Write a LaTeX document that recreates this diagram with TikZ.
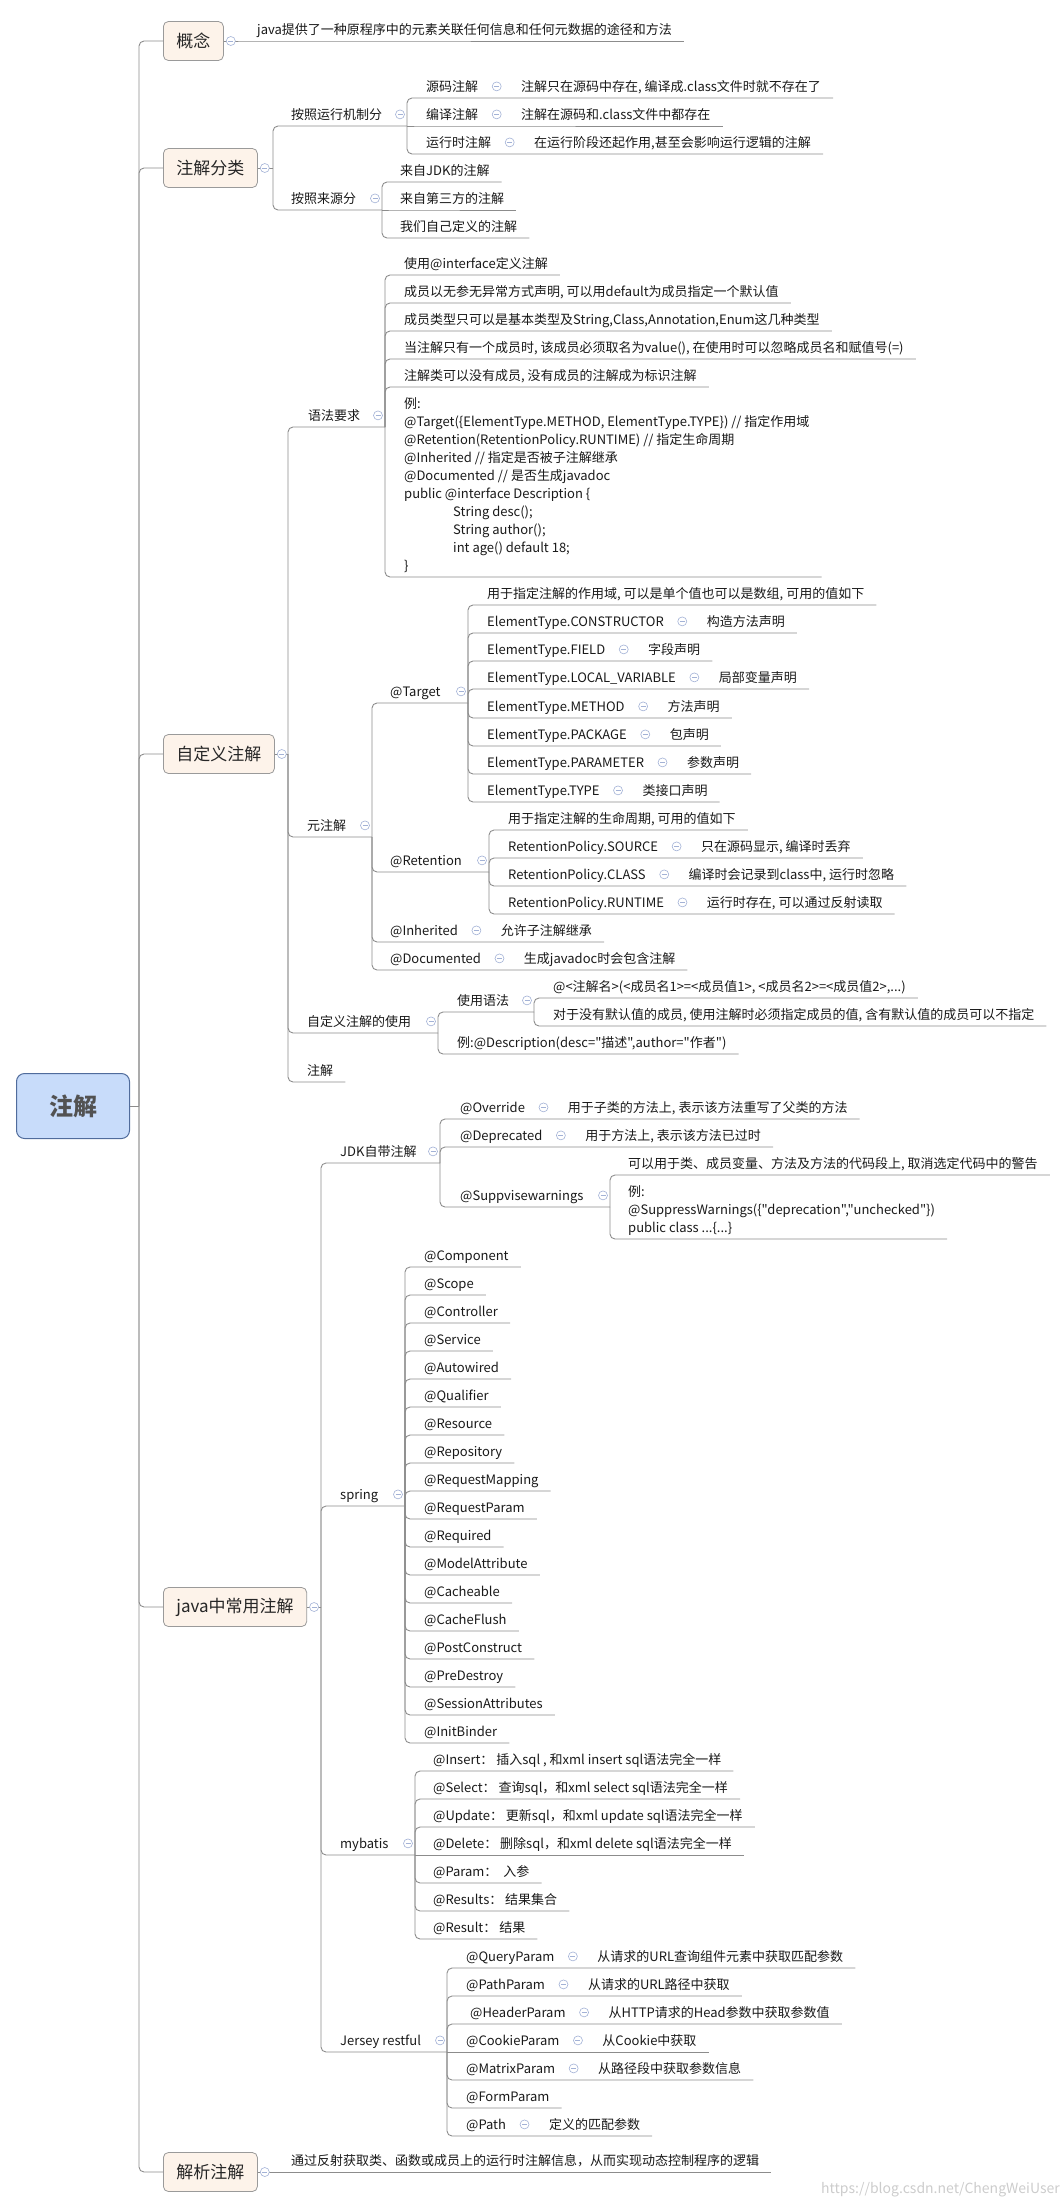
\documentclass[tikz,border=0pt]{standalone}
\usepackage{fontspec}
\setmainfont{Noto Sans CJK SC}[Ligatures=TeXOff]
\usetikzlibrary{positioning}
\definecolor{LNC}{HTML}{8C8C8C}
\definecolor{CCC}{HTML}{A3B2D6}
\definecolor{BXF}{HTML}{FDF3EA}
\definecolor{BXD}{HTML}{9A9A9A}
\definecolor{RTF}{HTML}{C8DCFA}
\definecolor{RTD}{HTML}{506C9C}
\newcommand{\leaffont}{\fontsize{13}{18}\selectfont}
\newcommand{\topfont}{\fontsize{17}{20}\selectfont}
\newcommand{\rootfont}{\fontsize{24}{28}\selectfont\bfseries}
\tikzset{
    RT/.style ={rectangle,rounded corners=8pt,draw=RTD,fill=RTF,line width=1pt,minimum width=113pt,minimum height=65pt,font=\rootfont,text=black!68},
    BX/.style ={rectangle,rounded corners=5pt,draw=BXD,fill=BXF,line width=0.8pt,anchor=west,inner xsep=13pt,minimum height=39pt,font=\topfont,text=black!85},
    LF/.style ={anchor=south west,inner xsep=0pt,inner ysep=4.9pt,text height=11.4pt,text depth=1.6pt,font=\leaffont,text=black!90},
    LB/.style ={anchor=south west,inner sep=0pt,text depth=6.5pt,font=\leaffont,text=black!90},
    CC/.style ={circle,draw=CCC,fill=white,line width=0.6pt,minimum size=9pt,inner sep=0pt,
        path picture={\draw[CCC,line width=0.6pt] ([xshift=-2.5pt]path picture bounding box.center) -- ([xshift=2.5pt]path picture bounding box.center);}},
    LN/.style ={draw=LNC,line width=0.9pt,rounded corners=5pt}}

\begin{document}
\begin{tikzpicture}[x=1pt,y=-1pt]
        \useasboundingbox (0,0) rectangle (1062,2208);
        % root and main branches
        \node[RT] (zj) at (73,1106){注解};
        \coordinate (J0) at (139,1106);
        \node[BX] (c1) at (163,41){概念};
        \node[BX] (c2) at (163,168){注解分类};
        \node[BX] (c3) at (163,754){自定义注解};
        \node[BX] (c4) at (163,1607){java中常用注解};
        \node[BX] (c5) at (163,2172){解析注解};
        % 概念
        \node[LF] (c1a) at (257,41){java提供了一种原程序中的元素关联任何信息和任何元数据的途径和方法};
        % 注解分类
        \coordinate (J1) at (273,168);
        \node[LF] (c2a) at (291,126){按照运行机制分};
        \coordinate (T2a) at (407,126);
        \node[LF] (c2a1) at (426,98){源码注解};
        \node[CC,right=13.5pt of c2a1] (k2a1){};
        \node[LF,right=19.5pt of k2a1] (c2a1x){注解只在源码中存在, 编译成.class文件时就不存在了};
        \node[LF] (c2a2) at (426,126){编译注解};
        \node[CC,right=13.5pt of c2a2] (k2a2){};
        \node[LF,right=19.5pt of k2a2] (c2a2x){注解在源码和.class文件中都存在};
        \node[LF] (c2a3) at (426,154){运行时注解};
        \node[CC,right=13.5pt of c2a3] (k2a3){};
        \node[LF,right=19.5pt of k2a3] (c2a3x){在运行阶段还起作用,甚至会影响运行逻辑的注解};
        \node[LF] (c2b) at (291,210){按照来源分};
        \coordinate (T2b) at (382,210);
        \node[LF] (c2b1) at (400,182){来自JDK的注解};
        \node[LF] (c2b2) at (400,210){来自第三方的注解};
        \node[LF] (c2b3) at (400,238){我们自己定义的注解};
        % 自定义注解
        \coordinate (J2) at (288,754);
        \node[LF] (c3a) at (308,427){语法要求};
        \coordinate (T3a) at (385,427);
        \node[LF] (c3a1) at (404,275){使用@interface定义注解};
        \node[LF] (c3a2) at (404,303){成员以无参无异常方式声明, 可以用default为成员指定一个默认值};
        \node[LF] (c3a3) at (404,331){成员类型只可以是基本类型及String,Class,Annotation,Enum这几种类型};
        \node[LF] (c3a4) at (404,359){当注解只有一个成员时, 该成员必须取名为value(), 在使用时可以忽略成员名和赋值号(=)};
        \node[LF] (c3a5) at (404,387){注解类可以没有成员, 没有成员的注解成为标识注解};
        \node[LB] (c3a6) at (404,577){\begin{tabular}[b]{@{}l@{}}
            例:\\
            @Target(\{ElementType.METHOD, ElementType.TYPE\}) // 指定作用域\\
            @Retention(RetentionPolicy.RUNTIME) // 指定生命周期\\
            @Inherited // 指定是否被子注解继承\\
            @Documented // 是否生成javadoc\\
            public @interface Description \{\\
            \hspace*{49pt}String desc();\\
            \hspace*{49pt}String author();\\
            \hspace*{49pt}int age() default 18;\\
            \}
            \end{tabular}};
        \node[LF] (c3b) at (307,837){元注解};
        \coordinate (T3b) at (372,837);
        \node[LF] (c3b1) at (390,703){@Target};
        \coordinate (T3b1) at (468,703);
        \node[LF] (t0) at (487,605){用于指定注解的作用域, 可以是单个值也可以是数组, 可用的值如下};
        \node[LF] (t1) at (487,633){ElementType.CONSTRUCTOR};
        \node[CC,right=13.5pt of t1] (kt1){};
        \node[LF,right=19.5pt of kt1] (t1x){构造方法声明};
        \node[LF] (t2) at (487,661){ElementType.FIELD};
        \node[CC,right=13.5pt of t2] (kt2){};
        \node[LF,right=19.5pt of kt2] (t2x){字段声明};
        \node[LF] (t3) at (487,689){ElementType.LOCAL\_VARIABLE};
        \node[CC,right=13.5pt of t3] (kt3){};
        \node[LF,right=19.5pt of kt3] (t3x){局部变量声明};
        \node[LF] (t4) at (487,718){ElementType.METHOD};
        \node[CC,right=13.5pt of t4] (kt4){};
        \node[LF,right=19.5pt of kt4] (t4x){方法声明};
        \node[LF] (t5) at (487,746){ElementType.PACKAGE};
        \node[CC,right=13.5pt of t5] (kt5){};
        \node[LF,right=19.5pt of kt5] (t5x){包声明};
        \node[LF] (t6) at (487,774){ElementType.PARAMETER};
        \node[CC,right=13.5pt of t6] (kt6){};
        \node[LF,right=19.5pt of kt6] (t6x){参数声明};
        \node[LF] (t7) at (487,802){ElementType.TYPE};
        \node[CC,right=13.5pt of t7] (kt7){};
        \node[LF,right=19.5pt of kt7] (t7x){类接口声明};
        \node[LF] (c3b2) at (390,872){@Retention};
        \coordinate (T3b2) at (489,872);
        \node[LF] (r0) at (508,830){用于指定注解的生命周期, 可用的值如下};
        \node[LF] (r1) at (508,858){RetentionPolicy.SOURCE};
        \node[CC,right=13.5pt of r1] (kr1){};
        \node[LF,right=19.5pt of kr1] (r1x){只在源码显示, 编译时丢弃};
        \node[LF] (r2) at (508,886){RetentionPolicy.CLASS};
        \node[CC,right=13.5pt of r2] (kr2){};
        \node[LF,right=19.5pt of kr2] (r2x){编译时会记录到class中, 运行时忽略};
        \node[LF] (r3) at (508,914){RetentionPolicy.RUNTIME};
        \node[CC,right=13.5pt of r3] (kr3){};
        \node[LF,right=19.5pt of kr3] (r3x){运行时存在, 可以通过反射读取};
        \node[LF] (c3b3) at (390,942){@Inherited};
        \node[CC,right=13.5pt of c3b3] (k3b3){};
        \node[LF,right=19.5pt of k3b3] (c3b3x){允许子注解继承};
        \node[LF] (c3b4) at (390,970){@Documented};
        \node[CC,right=13.5pt of c3b4] (k3b4){};
        \node[LF,right=19.5pt of k3b4] (c3b4x){生成javadoc时会包含注解};
        \node[LF] (c3c) at (307,1033){自定义注解的使用};
        \coordinate (T3c) at (438,1033);
        \node[LF] (c3c1) at (457,1012){使用语法};
        \coordinate (T3c1) at (534,1012);
        \node[LF] (u1) at (553,998){@<注解名>(<成员名1>=<成员值1>, <成员名2>=<成员值2>,...)};
        \node[LF] (u2) at (553,1026){对于没有默认值的成员, 使用注解时必须指定成员的值, 含有默认值的成员可以不指定};
        \node[LF] (c3c2) at (457,1054){例:@Description(desc="描述",author="作者")};
        \node[LF] (c3d) at (307,1082){注解};
        % java中常用注解
        \coordinate (J3) at (321,1607);
        \node[LF] (c4a) at (340,1163){JDK自带注解};
        \coordinate (T4a) at (440,1163);
        \node[LF] (c4a1) at (460,1119){@Override};
        \node[CC,right=13.5pt of c4a1] (k4a1){};
        \node[LF,right=19.5pt of k4a1] (c4a1x){用于子类的方法上, 表示该方法重写了父类的方法};
        \node[LF] (c4a2) at (460,1147){@Deprecated};
        \node[CC,right=13.5pt of c4a2] (k4a2){};
        \node[LF,right=19.5pt of k4a2] (c4a2x){用于方法上, 表示该方法已过时};
        \node[LF] (c4a3) at (460,1207){@Suppvisewarnings};
        \coordinate (T4a3) at (610,1207);
        \node[LF] (w1) at (628,1175){可以用于类、成员变量、方法及方法的代码段上, 取消选定代码中的警告};
        \node[LB] (w2) at (628,1239){\begin{tabular}[b]{@{}l@{}}
            例:\\
            @SuppressWarnings(\{"deprecation","unchecked"\})\\
            public class ...\{...\}
            \end{tabular}};
        \node[LF] (c4b) at (340,1506){spring};
        \coordinate (T4b) at (405,1506);
        \node[LF] (s1) at (424,1267){@Component};
        \node[LF] (s2) at (424,1295){@Scope};
        \node[LF] (s3) at (424,1323){@Controller};
        \node[LF] (s4) at (424,1351){@Service};
        \node[LF] (s5) at (424,1379){@Autowired};
        \node[LF] (s6) at (424,1407){@Qualifier};
        \node[LF] (s7) at (424,1435){@Resource};
        \node[LF] (s8) at (424,1463){@Repository};
        \node[LF] (s9) at (424,1491){@RequestMapping};
        \node[LF] (s10) at (424,1519){@RequestParam};
        \node[LF] (s11) at (424,1547){@Required};
        \node[LF] (s12) at (424,1575){@ModelAttribute};
        \node[LF] (s13) at (424,1603){@Cacheable};
        \node[LF] (s14) at (424,1631){@CacheFlush};
        \node[LF] (s15) at (424,1659){@PostConstruct};
        \node[LF] (s16) at (424,1687){@PreDestroy};
        \node[LF] (s17) at (424,1715){@SessionAttributes};
        \node[LF] (s18) at (424,1743){@InitBinder};
        \node[LF] (c4c) at (340,1855){mybatis};
        \coordinate (T4c) at (415,1855);
        \node[LF] (m1) at (433,1771){@Insert： 插入sql , 和xml insert sql语法完全一样};
        \node[LF] (m2) at (433,1799){@Select： 查询sql，和xml select sql语法完全一样};
        \node[LF] (m3) at (433,1827){@Update： 更新sql，和xml update sql语法完全一样};
        \node[LF] (m4) at (433,1855){@Delete： 删除sql，和xml delete sql语法完全一样};
        \node[LF] (m5) at (433,1883){@Param：\ \ 入参};
        \node[LF] (m6) at (433,1911){@Results： 结果集合};
        \node[LF] (m7) at (433,1939){@Result： 结果};
        \node[LF] (c4d) at (340,2052){Jersey restful};
        \coordinate (T4d) at (447,2052);
        \node[LF] (j1) at (466,1968){@QueryParam};
        \node[CC,right=13.5pt of j1] (kj1){};
        \node[LF,right=19.5pt of kj1] (j1x){从请求的URL查询组件元素中获取匹配参数};
        \node[LF] (j2) at (466,1996){@PathParam};
        \node[CC,right=13.5pt of j2] (kj2){};
        \node[LF,right=19.5pt of kj2] (j2x){从请求的URL路径中获取};
        \node[LF] (j3) at (470,2024){@HeaderParam};
        \node[CC,right=13.5pt of j3] (kj3){};
        \node[LF,right=19.5pt of kj3] (j3x){从HTTP请求的Head参数中获取参数值};
        \node[LF] (j4) at (466,2052){@CookieParam};
        \node[CC,right=13.5pt of j4] (kj4){};
        \node[LF,right=19.5pt of kj4] (j4x){从Cookie中获取};
        \node[LF] (j5) at (466,2080){@MatrixParam};
        \node[CC,right=13.5pt of j5] (kj5){};
        \node[LF,right=19.5pt of kj5] (j5x){从路径段中获取参数信息};
        \node[LF] (j6) at (466,2108){@FormParam};
        \node[LF] (j7) at (466,2136){@Path};
        \node[CC,right=13.5pt of j7] (kj7){};
        \node[LF,right=19.5pt of kj7] (j7x){定义的匹配参数};
        % 解析注解
        \node[LF] (c5a) at (291,2172){通过反射获取类、函数或成员上的运行时注解信息，从而实现动态控制程序的逻辑};
        \node[anchor=east,inner sep=0pt,font=\fontsize{14}{16}\selectfont,text=black!20] (wm) at (1060,2190){https://blog.csdn.net/ChengWeiUser};
        % connectors
        \draw[LN] (zj.east) -- (J0);
        \draw[LN] (J0) |- (c1.west);
        \draw[LN] (J0) |- (c2.west);
        \draw[LN] (J0) |- (c3.west);
        \draw[LN] (J0) |- (c4.west);
        \draw[LN] (J0) |- (c5.west);
        \draw[LN] (c1.east) -- (c1a.south west) -- ([xshift=12pt]c1a.south east);
        \draw[LN] (c2.east) -- (J1);
        \draw[LN] (J1) |- (c2a.south west) -- (T2a);
        \draw[LN] (T2a) |- (c2a1.south west) -- ([xshift=12pt]c2a1x.south east);
        \draw[LN] (T2a) -- (c2a2.south west) -- ([xshift=12pt]c2a2x.south east);
        \draw[LN] (T2a) |- (c2a3.south west) -- ([xshift=12pt]c2a3x.south east);
        \draw[LN] (J1) |- (c2b.south west) -- (T2b);
        \draw[LN] (T2b) |- (c2b1.south west) -- ([xshift=12pt]c2b1.south east);
        \draw[LN] (T2b) -- (c2b2.south west) -- ([xshift=12pt]c2b2.south east);
        \draw[LN] (T2b) |- (c2b3.south west) -- ([xshift=12pt]c2b3.south east);
        \draw[LN] (c3.east) -- (J2);
        \draw[LN] (J2) |- (c3a.south west) -- (T3a);
        \draw[LN] (T3a) |- (c3a1.south west) -- ([xshift=12pt]c3a1.south east);
        \draw[LN] (T3a) |- (c3a2.south west) -- ([xshift=12pt]c3a2.south east);
        \draw[LN] (T3a) |- (c3a3.south west) -- ([xshift=12pt]c3a3.south east);
        \draw[LN] (T3a) |- (c3a4.south west) -- ([xshift=12pt]c3a4.south east);
        \draw[LN] (T3a) |- (c3a5.south west) -- ([xshift=12pt]c3a5.south east);
        \draw[LN] (T3a) |- (c3a6.south west) -- ([xshift=12pt]c3a6.south east);
        \draw[LN] (J2) |- (c3b.south west) -- (T3b);
        \draw[LN] (T3b) |- (c3b1.south west) -- (T3b1);
        \draw[LN] (T3b1) |- (t0.south west) -- ([xshift=12pt]t0.south east);
        \draw[LN] (T3b1) |- (t1.south west) -- ([xshift=12pt]t1x.south east);
        \draw[LN] (T3b1) |- (t2.south west) -- ([xshift=12pt]t2x.south east);
        \draw[LN] (T3b1) |- (t3.south west) -- ([xshift=12pt]t3x.south east);
        \draw[LN] (T3b1) |- (t4.south west) -- ([xshift=12pt]t4x.south east);
        \draw[LN] (T3b1) |- (t5.south west) -- ([xshift=12pt]t5x.south east);
        \draw[LN] (T3b1) |- (t6.south west) -- ([xshift=12pt]t6x.south east);
        \draw[LN] (T3b1) |- (t7.south west) -- ([xshift=12pt]t7x.south east);
        \draw[LN] (T3b) |- (c3b2.south west) -- (T3b2);
        \draw[LN] (T3b2) |- (r0.south west) -- ([xshift=12pt]r0.south east);
        \draw[LN] (T3b2) |- (r1.south west) -- ([xshift=12pt]r1x.south east);
        \draw[LN] (T3b2) |- (r2.south west) -- ([xshift=12pt]r2x.south east);
        \draw[LN] (T3b2) |- (r3.south west) -- ([xshift=12pt]r3x.south east);
        \draw[LN] (T3b) |- (c3b3.south west) -- ([xshift=12pt]c3b3x.south east);
        \draw[LN] (T3b) |- (c3b4.south west) -- ([xshift=12pt]c3b4x.south east);
        \draw[LN] (J2) |- (c3c.south west) -- (T3c);
        \draw[LN] (T3c) |- (c3c1.south west) -- (T3c1);
        \draw[LN] (T3c1) |- (u1.south west) -- ([xshift=12pt]u1.south east);
        \draw[LN] (T3c1) |- (u2.south west) -- ([xshift=12pt]u2.south east);
        \draw[LN] (T3c) |- (c3c2.south west) -- ([xshift=12pt]c3c2.south east);
        \draw[LN] (J2) |- (c3d.south west) -- ([xshift=12pt]c3d.south east);
        \draw[LN] (c4.east) -- (J3);
        \draw[LN] (J3) |- (c4a.south west) -- (T4a);
        \draw[LN] (T4a) |- (c4a1.south west) -- ([xshift=12pt]c4a1x.south east);
        \draw[LN] (T4a) |- (c4a2.south west) -- ([xshift=12pt]c4a2x.south east);
        \draw[LN] (T4a) |- (c4a3.south west) -- (T4a3);
        \draw[LN] (T4a3) |- (w1.south west) -- ([xshift=12pt]w1.south east);
        \draw[LN] (T4a3) |- (w2.south west) -- ([xshift=12pt]w2.south east);
        \draw[LN] (J3) |- (c4b.south west) -- (T4b);
        \draw[LN] (T4b) |- (s1.south west) -- ([xshift=12pt]s1.south east);
        \draw[LN] (T4b) |- (s2.south west) -- ([xshift=12pt]s2.south east);
        \draw[LN] (T4b) |- (s3.south west) -- ([xshift=12pt]s3.south east);
        \draw[LN] (T4b) |- (s4.south west) -- ([xshift=12pt]s4.south east);
        \draw[LN] (T4b) |- (s5.south west) -- ([xshift=12pt]s5.south east);
        \draw[LN] (T4b) |- (s6.south west) -- ([xshift=12pt]s6.south east);
        \draw[LN] (T4b) |- (s7.south west) -- ([xshift=12pt]s7.south east);
        \draw[LN] (T4b) |- (s8.south west) -- ([xshift=12pt]s8.south east);
        \draw[LN] (T4b) |- (s9.south west) -- ([xshift=12pt]s9.south east);
        \draw[LN] (T4b) |- (s10.south west) -- ([xshift=12pt]s10.south east);
        \draw[LN] (T4b) |- (s11.south west) -- ([xshift=12pt]s11.south east);
        \draw[LN] (T4b) |- (s12.south west) -- ([xshift=12pt]s12.south east);
        \draw[LN] (T4b) |- (s13.south west) -- ([xshift=12pt]s13.south east);
        \draw[LN] (T4b) |- (s14.south west) -- ([xshift=12pt]s14.south east);
        \draw[LN] (T4b) |- (s15.south west) -- ([xshift=12pt]s15.south east);
        \draw[LN] (T4b) |- (s16.south west) -- ([xshift=12pt]s16.south east);
        \draw[LN] (T4b) |- (s17.south west) -- ([xshift=12pt]s17.south east);
        \draw[LN] (T4b) |- (s18.south west) -- ([xshift=12pt]s18.south east);
        \draw[LN] (J3) |- (c4c.south west) -- (T4c);
        \draw[LN] (T4c) |- (m1.south west) -- ([xshift=12pt]m1.south east);
        \draw[LN] (T4c) |- (m2.south west) -- ([xshift=12pt]m2.south east);
        \draw[LN] (T4c) |- (m3.south west) -- ([xshift=12pt]m3.south east);
        \draw[LN] (T4c) -- (m4.south west) -- ([xshift=12pt]m4.south east);
        \draw[LN] (T4c) |- (m5.south west) -- ([xshift=12pt]m5.south east);
        \draw[LN] (T4c) |- (m6.south west) -- ([xshift=12pt]m6.south east);
        \draw[LN] (T4c) |- (m7.south west) -- ([xshift=12pt]m7.south east);
        \draw[LN] (J3) |- (c4d.south west) -- (T4d);
        \draw[LN] (T4d) |- (j1.south west) -- ([xshift=12pt]j1x.south east);
        \draw[LN] (T4d) |- (j2.south west) -- ([xshift=12pt]j2x.south east);
        \draw[LN] (T4d) |- (j3.south west) -- ([xshift=12pt]j3x.south east);
        \draw[LN] (T4d) -- (j4.south west) -- ([xshift=12pt]j4x.south east);
        \draw[LN] (T4d) |- (j5.south west) -- ([xshift=12pt]j5x.south east);
        \draw[LN] (T4d) |- (j6.south west) -- ([xshift=12pt]j6.south east);
        \draw[LN] (T4d) |- (j7.south west) -- ([xshift=12pt]j7x.south east);
        \draw[LN] (c5.east) -- (c5a.south west) -- ([xshift=12pt]c5a.south east);
        % collapse marks
        \node[CC] at ([xshift=7pt]c1.east){};
        \node[CC] at ([xshift=7pt]c2.east){};
        \node[CC] at ([xshift=7pt]c3.east){};
        \node[CC] at ([xshift=7pt]c4.east){};
        \node[CC] at ([xshift=7pt]c5.east){};
        \node[CC,xshift=-7pt] at (T2a |- c2a){};
        \node[CC,xshift=-7pt] at (T2b |- c2b){};
        \node[CC,xshift=-7pt] at (T3a |- c3a){};
        \node[CC,xshift=-7pt] at (T3b |- c3b){};
        \node[CC,xshift=-7pt] at (T3b1 |- c3b1){};
        \node[CC,xshift=-7pt] at (T3b2 |- c3b2){};
        \node[CC,xshift=-7pt] at (T3c |- c3c){};
        \node[CC,xshift=-7pt] at (T3c1 |- c3c1){};
        \node[CC,xshift=-7pt] at (T4a |- c4a){};
        \node[CC,xshift=-7pt] at (T4a3 |- c4a3){};
        \node[CC,xshift=-7pt] at (T4b |- c4b){};
        \node[CC,xshift=-7pt] at (T4c |- c4c){};
        \node[CC,xshift=-7pt] at (T4d |- c4d){};
    \end{tikzpicture}
\end{document}
